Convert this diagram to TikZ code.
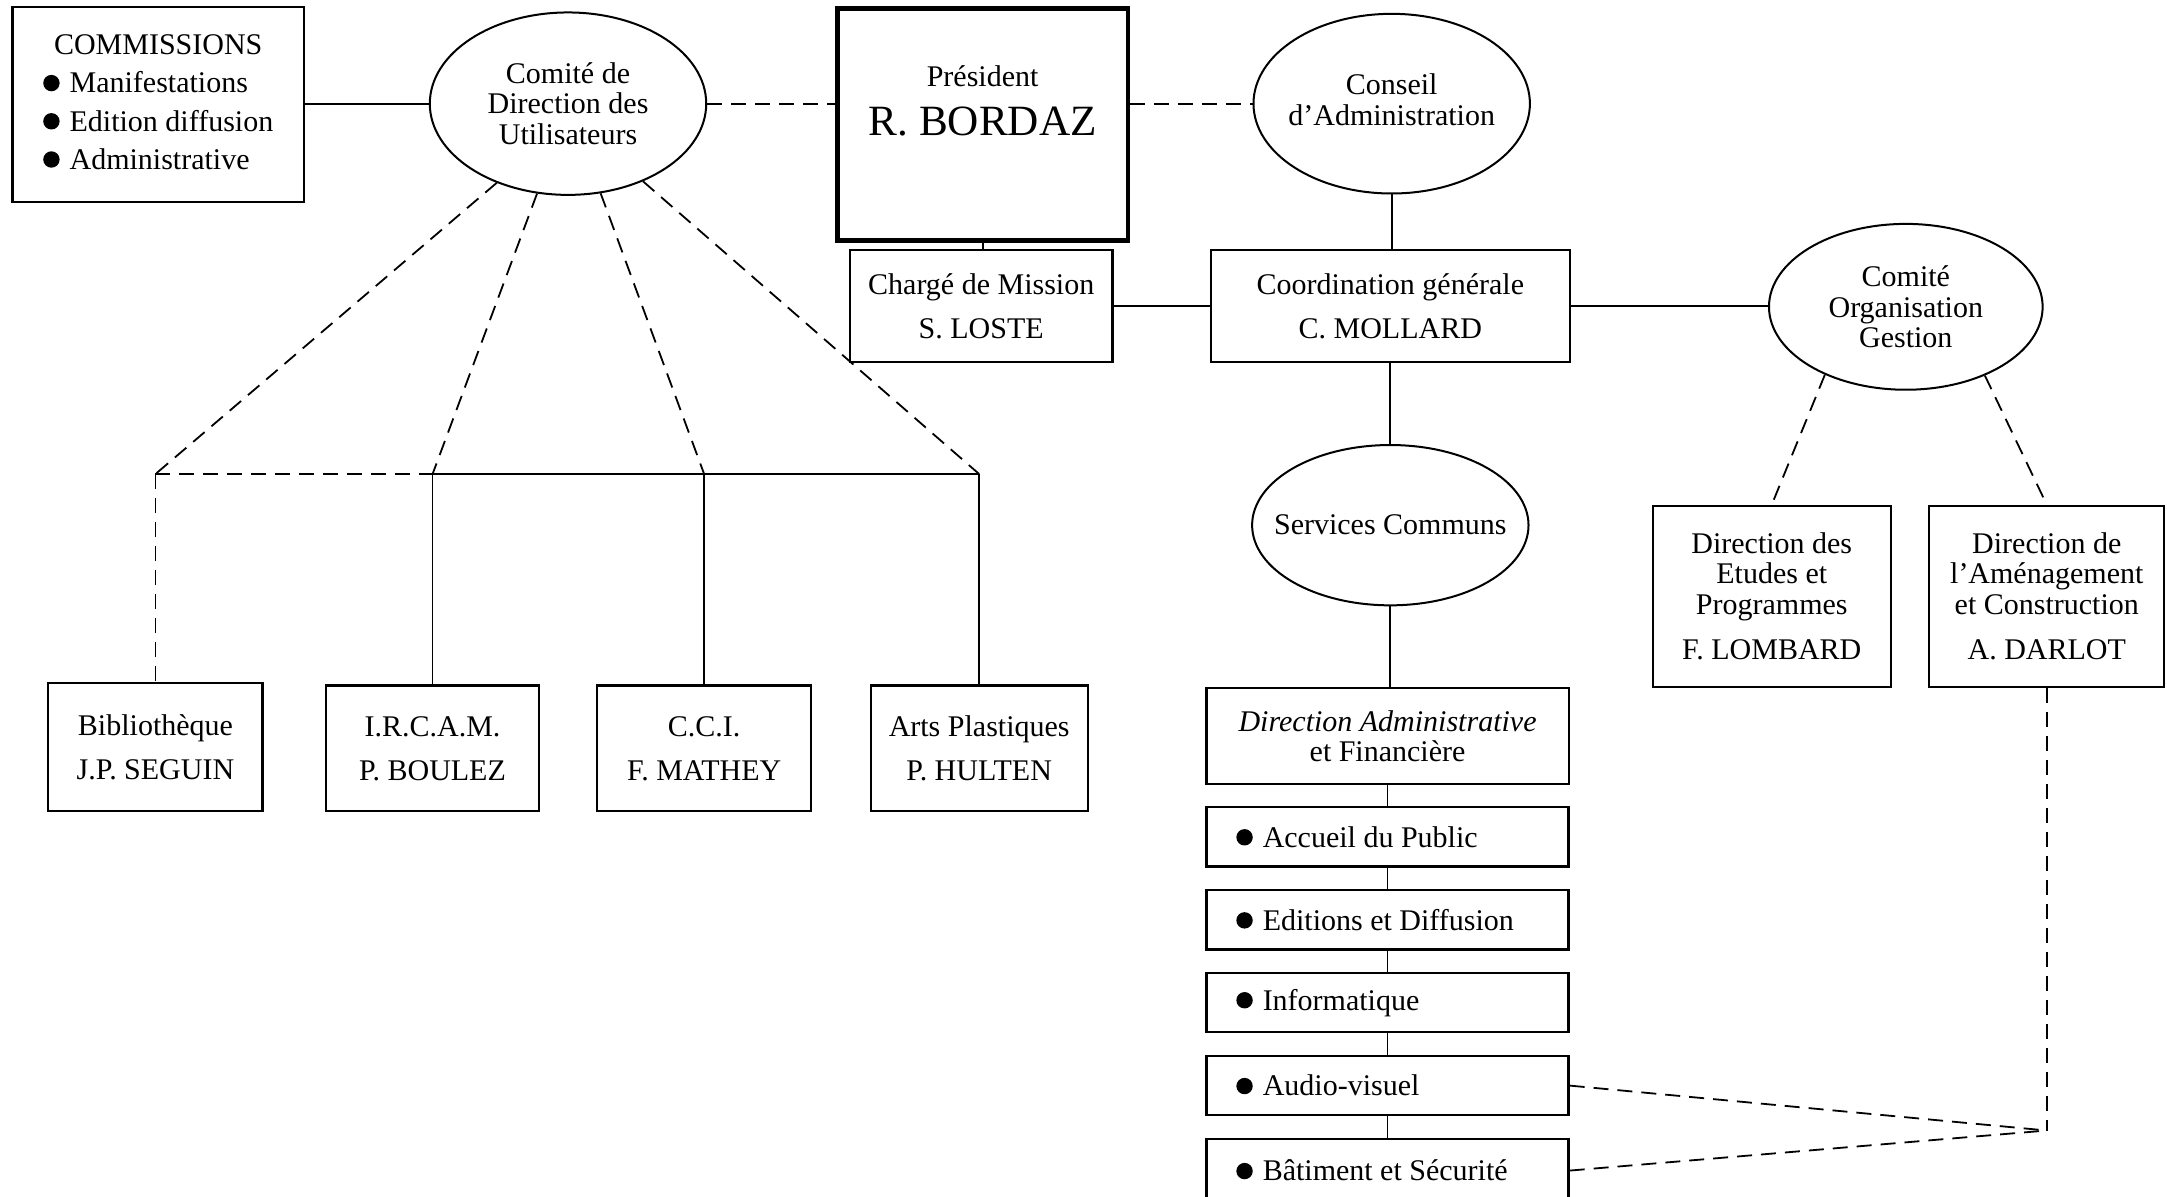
\documentclass[tikz,border=0pt]{standalone}
\usepackage{fontspec}
\setmainfont{Liberation Serif}
\usetikzlibrary{shapes.geometric}

% filled round bullet used in the lists
\newcommand\blt{\tikz[baseline=-4.9pt]\fill (0,0) circle (4.1pt);\hspace{5pt}}

\begin{document}
\begin{tikzpicture}[x=0.691pt, y=-0.691pt,
  every node/.style={font=\fontsize{15}{15.2}\selectfont, inner sep=0pt},
  wh/.style 2 args={minimum width={#1*0.691pt}, minimum height={#2*0.691pt}},
  box/.style={draw, line width=1.1pt, align=center},
  oval/.style={draw, ellipse, line width=1pt},
  svc/.style={draw, line width=1.1pt, align=flush left, text width=151.2pt,
              inner xsep=14.9pt, minimum height={43*0.691pt}},
  link/.style={line width=0.9pt},
  dlink/.style={line width=0.9pt, dash pattern=on 7.5pt off 4.5pt},
]
\useasboundingbox (0,0) rectangle (1568,866);

% --- top row ---
\node[box, wh={211}{141}] (comm) at (114.5,75.5)
  {\fontsize{15}{19.1}\selectfont
   \begin{tabular}{@{}l@{}}
     \multicolumn{1}{@{}c@{}}{COMMISSIONS}\\
     \blt Manifestations\\
     \blt Edition diffusion\\
     \blt Administrative
   \end{tabular}};
\node[oval, wh={200}{132},
      label={[align=center]center:Comité de\\Direction des\\Utilisateurs}]
      (cdu) at (411,75) {};
\node[box, line width=2.2pt, wh={210}{168}] (pres) at (711,90) {};
\node[align=center] (prestxt) at (711,73)
  {Président\\[9pt]{\fontsize{21.6}{21.6}\selectfont R. BORDAZ}};
\node[oval, wh={200}{130},
      label={[align=center, yshift=2pt]center:Conseil\\d’Administration}]
      (cadm) at (1007,75) {};

% --- second row ---
\node[box, wh={190}{81}] (charge) at (710,221.5)
  {Chargé de Mission\\[6.9pt]S. LOSTE};
\node[box, wh={260}{81}] (coord) at (1006,221.5)
  {Coordination générale\\[6.9pt]C. MOLLARD};
\node[oval, wh={198}{120},
      label={[align=center]center:Comité\\Organisation\\Gestion}]
      (cog) at (1379,222) {};

% --- right branch ---
\node[oval, wh={200}{116}, label={center:Services Communs}]
      (serv) at (1006,380) {};
\node[box, wh={172}{131}] (etudes) at (1282,431.5)
  {Direction des\\Etudes et\\Programmes\\[7.6pt]F. LOMBARD};
\node[box, wh={170}{131}] (darlot) at (1481,431.5)
  {Direction de\\l’Aménagement\\et Construction\\[7.6pt]A. DARLOT};

\node[box, wh={262}{69}] (daf) at (1004,532.5)
  {\textit{Direction Administrative}\\et Financière};
\node[svc] (acc) at (1004,605.5) {\blt Accueil du Public};
\node[svc] (edi) at (1004,665.5) {\blt Editions et Diffusion};
\node[svc] (inf) at (1004,725.5) {\blt Informatique};
\node[svc] (aud) at (1004,785.5) {\blt Audio-visuel};
\node[svc, minimum height={46*0.691pt}] (bat) at (1004,847) {\blt Bâtiment et Sécurité};

% --- left branch ---
\node[box, wh={155}{93}] (bib) at (112.5,540.5) {Bibliothèque\\[6.9pt]J.P. SEGUIN};
\node[box, wh={154}{91}] (irc) at (313,541.5) {I.R.C.A.M.\\[6.9pt]P. BOULEZ};
\node[box, wh={155}{91}] (cci) at (509.5,541.5) {C.C.I.\\[6.9pt]F. MATHEY};
\node[box, wh={157}{91}] (arts) at (708.5,541.5) {Arts Plastiques\\[6.9pt]P. HULTEN};

\coordinate (j1) at (bib.north |- 0,343);
\coordinate (j2) at (irc.north |- 0,343);
\coordinate (j3) at (cci.north |- 0,343);
\coordinate (j4) at (arts.north |- 0,343);
\coordinate (m) at (darlot.south |- 0,818);

% --- connectors ---
\draw[link] (comm.east) -- (comm.east -| cdu.west);
\draw[dlink] (cdu.east) -- (pres.west |- cdu.east);
\draw[dlink] (pres.east |- cadm.west) -- (cadm.west);
\draw[link] (pres.south) -- (pres.south |- charge.north);
\draw[link] (cadm.south) -- (cadm.south |- coord.north);
\draw[link] (charge.east) -- (coord.west);
\draw[link] (coord.east) -- (coord.east -| cog.west);
\draw[link] (coord.south) -- (serv.north);
\draw[link] (serv.south) -- (serv.south |- daf.north);
\draw[link] (daf.south) -- (acc.north);
\draw[link] (acc.south) -- (edi.north);
\draw[link] (edi.south) -- (inf.north);
\draw[link] (inf.south) -- (aud.north);
\draw[link] (aud.south) -- (bat.north);

\draw[dlink] (cog.220) -- (etudes.north);
\draw[dlink] (cog.319) -- (darlot.north);
\draw[dlink] (darlot.south) -- (m);
\draw[dlink] (aud.east) -- (m);
\draw[dlink] (bat.east) -- (m);

\draw[dlink] (cdu.228.5) -- (j1);
\draw[dlink] (cdu.251.6) -- (j2);
\draw[dlink] (cdu.290) -- (j3);
\draw[dlink] (cdu.314.4) -- (j4);
\draw[dlink] (j1) -- (j2);
\draw[link] (j2) -- (j4);
\draw[dlink] (j1) -- (bib.north);
\draw[link] (j2) -- (irc.north);
\draw[link] (j3) -- (cci.north);
\draw[link] (j4) -- (arts.north);
\end{tikzpicture}
\end{document}
